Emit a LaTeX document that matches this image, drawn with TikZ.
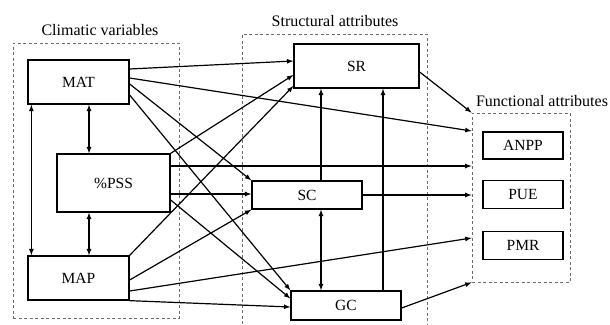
\documentclass[tikz,border=0pt]{standalone}
\usepackage{fontspec}
\setmainfont{Liberation Serif}
\usetikzlibrary{positioning}

\tikzset{
  var/.style={draw, line width=1.3pt, inner sep=0pt, font=\fontsize{15.5}{18}\selectfont},
  group/.style={draw=gray!85!black, line width=0.8pt, dash pattern=on 3pt off 2.5pt, inner sep=0pt},
  grouplabel/.style={anchor=base, inner sep=0pt, font=\fontsize{16}{19}\selectfont},
  link/.style={->, >=latex, line width=1.2pt},
  twoway/.style={<->, >=latex, line width=1.2pt}
}

\begin{document}
\begin{tikzpicture}[x=1pt,y=-1pt]
\useasboundingbox (0,0) rectangle (610,324);

% groups
\node[group, minimum width=166pt, minimum height=275pt] (clim) at (96,180.5) {};
\node[group, minimum width=98pt, minimum height=169pt] (func) at (521,197.5) {};
\draw[group] (242,324) -- (242,34) coordinate (structnw) -- (427,34) -- (427,324);

\node[grouplabel] (climlab) at (100,35) {Climatic variables};
\node[grouplabel] (structlab) at (335,26) {Structural attributes};
\node[grouplabel] (funclab) at (542,106) {Functional attributes};

% climatic variables
\node[var, minimum width=101pt, minimum height=44pt] (MAT) at (78.5,82) {MAT};
\node[var, minimum width=113pt, minimum height=58pt] (PSS) at (113.5,183) {\%PSS};
\node[var, minimum width=101pt, minimum height=44pt] (MAP) at (78.5,278) {MAP};

% structural attributes
\node[var, minimum width=125pt, minimum height=44pt] (SR) at (356.5,66) {SR};
\node[var, minimum width=110pt, minimum height=28pt] (SC) at (307,195) {SC};
\node[var, minimum width=110pt, minimum height=29pt] (GC) at (346,305.5) {GC};

% functional attributes
\node[var, minimum width=80pt, minimum height=27pt] (ANPP) at (523,145.5) {ANPP};
\node[var, minimum width=80pt, minimum height=28pt, below=20pt of ANPP] (PUE) {PUE};
\node[var, minimum width=80pt, minimum height=28pt, below=22pt of PUE] (PMR) {PMR};

% within the climatic group
\draw[twoway] ([xshift=4]MAT.south west) -- ([xshift=4]MAP.north west);
\draw[twoway] ([xshift=10.5]MAT.south) -- ([xshift=-24.5]PSS.north);
\draw[twoway] ([xshift=-24.5]PSS.south) -- ([xshift=10.5]MAP.north);

% from MAT
\draw[link] ([yshift=13]MAT.east) -- ([yshift=5]SR.west);
\draw[link] ([yshift=4]MAT.east) -- ([yshift=66.5]func.west);
\draw[link] ([yshift=-2]MAT.east) -- (SC.north west);
\draw[link] ([yshift=-13]MAT.east) -- (GC.north west);

% from %PSS
\draw[link] (PSS.north east) -- ([yshift=-9]SR.west);
\draw[link] ([yshift=17]PSS.east) -- ([yshift=17]PSS.east -| func.west);
\draw[link] ([yshift=-11]PSS.east) -- ([yshift=-11]PSS.east -| SC.west);
\draw[link] ([yshift=-17]PSS.east) -- ([yshift=7]GC.west);

% from MAP
\draw[link] (MAP.north east) -- ([yshift=-20]SR.west);
\draw[link] ([yshift=-2]MAP.east) -- (SC.south west);
\draw[link] ([yshift=-13]MAP.east) -- ([yshift=-40.5]func.west);
\draw[link] (MAP.south east) -- ([yshift=-1.5]GC.west);

% within the structural group
\draw[link] ([xshift=14]SC.north) -- ([xshift=-35.5]SR.south);
\draw[link] ([xshift=37]GC.north) -- ([xshift=26.5]SR.south);
\draw[twoway] ([xshift=14]SC.south) -- ([xshift=-25]GC.north);

% to the functional group
\draw[link] ([yshift=-6]SR.east) -- (func.north west);
\draw[link] (SC.east) -- (SC.east -| func.west);
\draw[link] ([yshift=-2.5]GC.east) -- (func.south west);

\end{tikzpicture}
\end{document}
